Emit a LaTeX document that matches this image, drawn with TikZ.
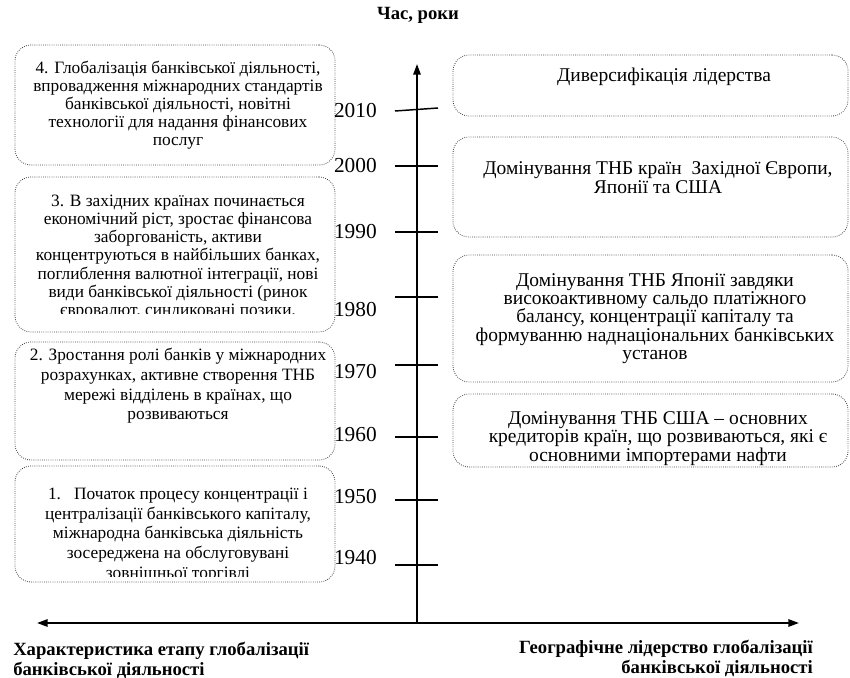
\documentclass[tikz,border=0pt]{standalone}
\usepackage{fontspec}
\setmainfont{Liberation Serif}
\usetikzlibrary{arrows.meta}
\newcommand\tightlines{\lineskiplimit-20pt\relax}
\begin{document}
\begin{tikzpicture}[x=0.75pt,y=-0.75pt,
  box/.style={draw=black!75, densely dotted, line width=0.6pt, rounded corners=12pt, inner sep=0pt},
  txt/.style={align=center, inner sep=0pt, font=\fontsize{13}{13.6}\selectfont\tightlines},
  txtw/.style={align=center, inner sep=0pt, font=\fontsize{13}{14.8}\selectfont\tightlines},
  rtxt/.style={align=center, inner sep=0pt, font=\fontsize{14.6}{13.8}\selectfont\tightlines},
  year/.style={anchor=east, inner sep=0pt, font=\fontsize{16}{18}\selectfont},
  axis/.style={line width=1.4pt},
  tickline/.style={line width=1.1pt},
  lbl/.style={inner sep=0pt, font=\fontsize{14}{15}\selectfont\bfseries},
  tip/.style={-{Triangle[length=8pt,width=5.5pt]}}
]
\useasboundingbox (0,0) rectangle (850,678);

% title
\node[lbl] (title) at (418,15) {Час, роки};

% left boxes
\node[box, minimum width=240pt, minimum height=90pt] (b4) at (175,105) {};
\node[box, minimum width=240pt, minimum height=116.25pt] (b3) at (175,254.5) {};
\node[box, minimum width=240pt, minimum height=88.5pt] (b2) at (175,401) {};
\node[box, minimum width=240pt, minimum height=87pt] (b1) at (175,524) {};

\node[txt] (t4) at (178,105) {4. Глобалізація банківської діяльності,\\впровадження міжнародних стандартів\\банківської діяльності, новітні\\технології для надання фінансових\\послуг};
\begin{scope}
\clip (15,177) rectangle (335,313.5);
\node[txt] (t3) at (178,257) {3. В західних країнах починається\\економічний ріст, зростає фінансова\\заборгованість, активи\\концентруються в найбільших банках,\\поглиблення валютної інтеграції, нові\\види банківської діяльності (ринок\\євровалют, синдиковані позики,};
\end{scope}
\node[txtw] (t2) at (178,386) {2. Зростання ролі банків у міжнародних\\розрахунках, активне створення ТНБ\\мережі відділень в країнах, що\\розвиваються};
\begin{scope}
\clip (15,466) rectangle (335,576);
\node[txtw] (t1) at (178,535) {1.\enspace\ Початок процесу концентрації і\\централізації банківського капіталу,\\міжнародна банківська діяльність\\зосереджена на обслуговувані\\зовнішньої торгівлі};
\end{scope}

% right boxes
\node[box, minimum width=296.25pt, minimum height=45.75pt] (ra) at (650.5,85.5) {};
\node[box, minimum width=296.25pt, minimum height=75pt] (rb) at (650.5,187) {};
\node[box, minimum width=296.25pt, minimum height=95.25pt] (rc) at (650.5,318.5) {};
\node[box, minimum width=296.25pt, minimum height=54.75pt] (rd) at (650.5,430.5) {};

\node[rtxt] (ta) at (664,77) {Диверсифікація лідерства};
\node[rtxt] (tb) at (658,177.5) {Домінування ТНБ країн\ \ Західної Європи,\\Японії та США};
\node[rtxt] (tc) at (655,318.5) {Домінування ТНБ Японії завдяки\\високоактивному сальдо платіжного\\балансу, концентрації капіталу та\\формуванню наднаціональних банківських\\установ};
\node[rtxt] (td) at (658,438.5) {Домінування ТНБ США – основних\\кредиторів країн, що розвиваються, які є\\основними імпортерами нафти};

% axes
\coordinate (origin) at (417,623);
\coordinate (top) at (417,64);
\coordinate (left) at (37,623);
\coordinate (right) at (799,623);
\draw[axis, tip] (origin) -- (top);
\draw[axis, {Triangle[length=8pt,width=5.5pt]}-{Triangle[length=8pt,width=5.5pt]}] (left) -- (right);

% ticks
\coordinate (l2010) at (395,111); \coordinate (r2010) at (438,108);
\draw[tickline] (l2010) -- (r2010);
\foreach \yy/\nn in {166/2000, 232/1990, 297/1980, 365/1970, 437/1960, 500/1950, 565/1940} {
  \coordinate (l\nn) at (395,\yy);
  \coordinate (r\nn) at (438,\yy);
  \draw[tickline] (l\nn) -- (r\nn);
}

% years
\node[year] (y2010) at (377,111) {2010};
\node[year] (y2000) at (377,166) {2000};
\node[year] (y1990) at (377,232) {1990};
\node[year] (y1980) at (377,310) {1980};
\node[year] (y1970) at (377,372) {1970};
\node[year] (y1960) at (377,435) {1960};
\node[year] (y1950) at (377,497) {1950};
\node[year] (y1940) at (377,558) {1940};

% bottom labels
\node[lbl, align=left, anchor=west] (ll) at (13,660) {Характеристика етапу глобалізації\\банківської діяльності};
\node[lbl, align=right, anchor=east] (rl) at (813,658) {Географічне лідерство глобалізації\\банківської діяльності};
\end{tikzpicture}
\end{document}
